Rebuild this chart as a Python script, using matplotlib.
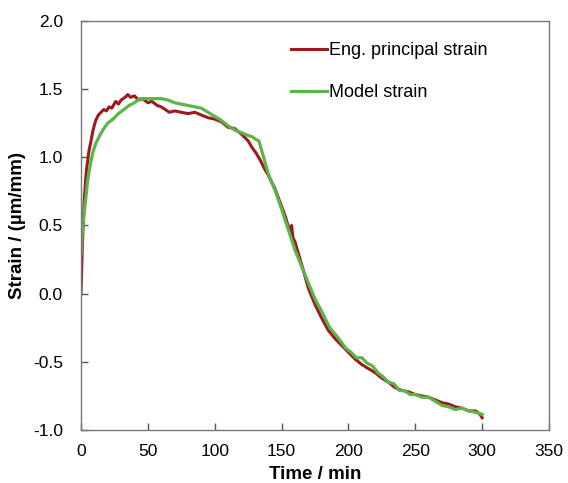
import matplotlib
matplotlib.use("Agg")
import matplotlib.pyplot as plt

# Eng. principal strain
eng_time = [0, 1, 2.5, 4, 6, 7.5, 9, 11, 13, 15,
            17, 19, 21, 23, 26, 28, 30, 33, 35, 37,
            40, 43, 46, 50, 53, 57, 60, 63, 66, 70,
            75, 80, 85, 90, 95, 100, 105, 110, 115, 120,
            125, 128, 131, 134, 137, 140, 145, 150, 153, 156,
            157.5, 158.5, 160, 163, 166, 170, 175, 180, 185, 190,
            195, 200, 205, 210, 215, 220, 225, 230, 235, 240,
            245, 250, 255, 260, 265, 270, 275, 280, 285, 290,
            295, 298, 300]
eng_strain = [0.00, 0.35, 0.70, 0.90, 1.05, 1.12, 1.20, 1.27, 1.31, 1.33,
              1.35, 1.34, 1.37, 1.36, 1.41, 1.39, 1.42, 1.44, 1.46, 1.44,
              1.45, 1.42, 1.43, 1.40, 1.41, 1.38, 1.37, 1.35, 1.33, 1.34,
              1.33, 1.32, 1.33, 1.31, 1.29, 1.28, 1.26, 1.22, 1.21, 1.17,
              1.12, 1.07, 1.03, 0.98, 0.92, 0.87, 0.77, 0.64, 0.56, 0.46,
              0.50, 0.41, 0.38, 0.28, 0.18, 0.04, -0.08, -0.18, -0.27, -0.33,
              -0.38, -0.43, -0.48, -0.52, -0.55, -0.58, -0.62, -0.65, -0.69, -0.71,
              -0.72, -0.74, -0.75, -0.76, -0.78, -0.80, -0.81, -0.83, -0.84, -0.86,
              -0.86, -0.88, -0.91]

# Model strain
model_time = [0, 1, 2.5, 5, 7, 9, 11, 14, 17, 20,
              24, 28, 32, 36, 40, 44, 50, 55, 60, 65,
              70, 75, 80, 85, 90, 95, 100, 105, 110, 115,
              120, 125, 128, 131, 133, 136, 140, 145, 150, 155,
              160, 165, 170, 175, 180, 186, 192, 198, 202, 206,
              210, 214, 218, 222, 226, 230, 234, 238, 242, 246,
              250, 255, 260, 265, 270, 275, 280, 285, 290, 295,
              300]
model_strain = [0.29, 0.45, 0.60, 0.83, 0.95, 1.04, 1.10, 1.16, 1.21, 1.25,
                1.28, 1.32, 1.35, 1.38, 1.40, 1.43, 1.43, 1.43, 1.43, 1.42,
                1.40, 1.39, 1.38, 1.37, 1.36, 1.33, 1.30, 1.27, 1.23, 1.20,
                1.18, 1.16, 1.15, 1.13, 1.12, 1.02, 0.88, 0.76, 0.62, 0.47,
                0.32, 0.20, 0.08, -0.04, -0.13, -0.25, -0.32, -0.40, -0.43, -0.47,
                -0.47, -0.51, -0.53, -0.58, -0.61, -0.65, -0.66, -0.71, -0.71, -0.74,
                -0.74, -0.76, -0.76, -0.79, -0.82, -0.83, -0.85, -0.84, -0.86, -0.87,
                -0.885]

xticks = [0, 50, 100, 150, 200, 250, 300, 350]
yticks = [-1.0, -0.5, 0.0, 0.5, 1.0, 1.5, 2.0]

plt.rcParams['font.family'] = ['Liberation Sans', 'DejaVu Sans']

fig = plt.figure(figsize=(5.68, 4.83), dpi=100)
ax = fig.add_axes([0.1426, 0.1097, 0.824, 0.847])

ax.plot(eng_time, eng_strain, color='#9b1b1e', lw=2.2, label='Eng. principal strain')
ax.plot(model_time, model_strain, color='#5cb548', lw=2.3, label='Model strain')

ax.set_xlim(0, 350)
ax.set_ylim(-1.0, 2.0)
ax.set_xticks(xticks)
ax.set_yticks(yticks)
ax.set_yticklabels([f"{v:.1f}" for v in yticks])
ax.tick_params(direction='in', length=5, width=1, color='#555555', labelsize=12.5)
ax.tick_params(axis='x', pad=10)
ax.tick_params(axis='y', pad=13)
for s in ax.spines.values():
    s.set_color('#777777')
    s.set_linewidth(1)

ax.set_xlabel("Time / min", fontsize=13.5, fontweight='bold', labelpad=5)
ax.set_ylabel("Strain / (µm/mm)", fontsize=13.5, fontweight='bold', labelpad=5)

ax.legend(loc='upper left', bbox_to_anchor=(0.449, 0.948), frameon=False,
          fontsize=13, handlelength=2.0, handletextpad=0.1, labelspacing=1.4,
          borderpad=0, borderaxespad=0)

plt.savefig("out.png", dpi=100)
